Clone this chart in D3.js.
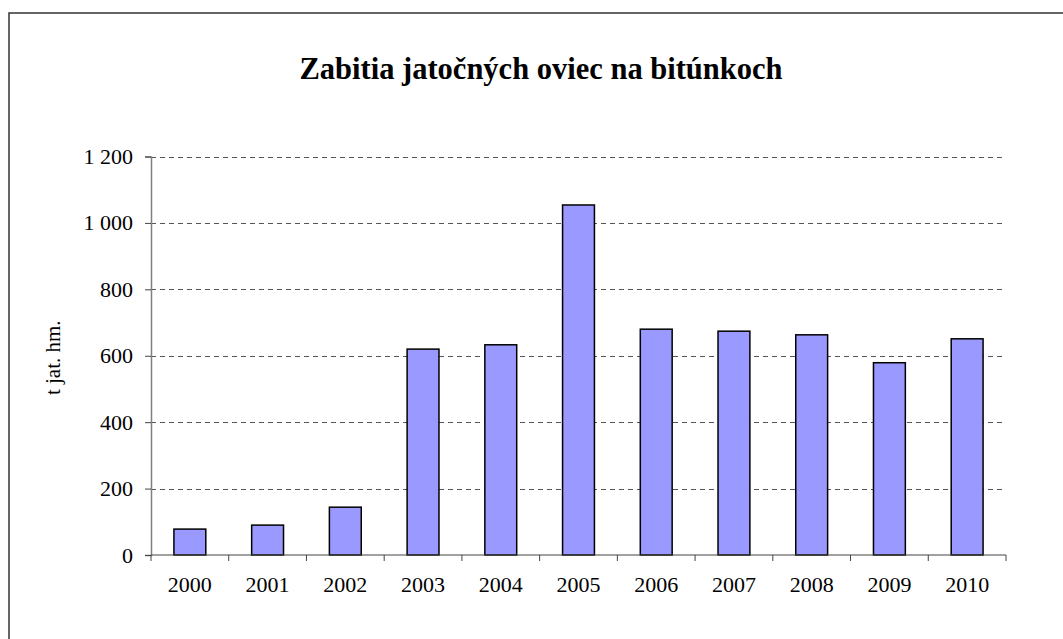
<!DOCTYPE html>
<html><head><meta charset="utf-8">
<script src="https://cdn.jsdelivr.net/npm/d3@7"></script>
<style>body{margin:0;background:#fff}svg{display:block}
svg text{font-family:"Liberation Serif","Times New Roman",Times,"DejaVu Serif",serif !important}</style>
</head><body>
<svg id="c" width="1063" height="639"></svg>
<script>
const categories = ["2000","2001","2002","2003","2004","2005","2006","2007","2008","2009","2010"];
const values = [78, 90, 144, 620, 633, 1054, 680, 674, 663, 579, 651];
const yTicks = [0, 200, 400, 600, 800, 1000, 1200];
const title = "Zabitia jatočných oviec na bitúnkoch";
const yTitle = "t jat. hm.";

const svg = d3.select("#c");
// outer frame
svg.append("rect").attr("x",9).attr("y",13).attr("width",1100).attr("height",700)
  .attr("fill","none").attr("stroke","#333").attr("stroke-width",1.5);

const L=151, R=1006, T=156.5, B=555;
const x = d3.scaleBand().domain(categories).range([L,R]).padding(0);
const y = d3.scaleLinear().domain([0,1200]).range([B,T]);
const fmt = v => d3.format(",")(v).replace(/,/g," ");

// grid
svg.append("g").selectAll("line").data(yTicks.filter(d=>d>0)).join("line")
  .attr("x1",L).attr("x2",R-3).attr("y1",d=>Math.round(y(d))+0.5).attr("y2",d=>Math.round(y(d))+0.5)
  .attr("stroke","#555").attr("stroke-width",1).attr("stroke-dasharray","5,4");

// bars
const bw = x.bandwidth()*0.41;
svg.append("g").selectAll("rect").data(values).join("rect")
  .attr("x",(d,i)=>x(categories[i])+x.bandwidth()/2-bw/2)
  .attr("y",d=>y(d)).attr("width",bw).attr("height",d=>B-y(d))
  .attr("fill","#9999FF").attr("stroke","#000").attr("stroke-width",1.5);

// y axis
const ya = svg.append("g").attr("transform",`translate(${L},0)`)
  .call(d3.axisLeft(y).tickValues(yTicks).tickSize(6).tickFormat(fmt));
ya.select(".domain").attr("stroke","#808080").attr("stroke-width",1.5);
ya.selectAll(".tick line").attr("stroke","#444");
ya.selectAll("text").attr("font-size",22).attr("fill","#000").attr("x",-18);

// x axis
const xa = svg.append("g").attr("transform",`translate(0,${B})`)
  .call(d3.axisBottom(x).tickSize(0).tickPadding(0));
xa.select(".domain").remove();
svg.append("line").attr("x1",L).attr("x2",R).attr("y1",B).attr("y2",B).attr("stroke","#444").attr("stroke-width",1.2);
svg.append("g").selectAll("line").data(categories.concat(["end"])).join("line")
  .attr("x1",(d,i)=>L+i*x.step()).attr("x2",(d,i)=>L+i*x.step())
  .attr("y1",B).attr("y2",B+6).attr("stroke","#444");
xa.selectAll("text").attr("font-size",22).attr("fill","#000").attr("dy",null).attr("y",37);

// titles
svg.append("text").attr("x",541).attr("y",79).attr("text-anchor","middle")
  .attr("font-weight","bold").attr("font-size",30.5).text(title);
svg.append("text").attr("transform",`translate(60,${(T+B)/2+2}) rotate(-90)`).attr("text-anchor","middle")
  .attr("font-size",21).text(yTitle);
</script>
</body></html>
